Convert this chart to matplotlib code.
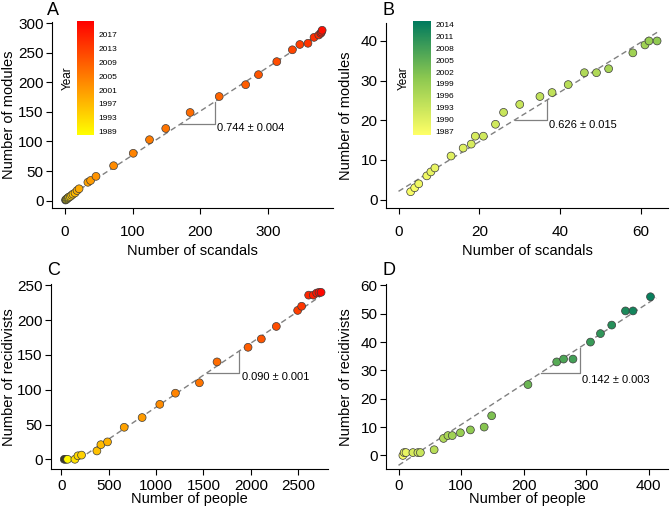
import matplotlib
matplotlib.use("Agg")
import matplotlib.pyplot as plt
from matplotlib.colors import LinearSegmentedColormap, Normalize
from matplotlib.cm import ScalarMappable

plt.rcParams['font.family'] = ['Liberation Sans', 'DejaVu Sans']

# panel A: scandals vs modules (orange scale)
a_x = [1, 2, 3, 4, 5, 6, 8, 10, 12, 15, 18, 21, 34, 38, 46, 72, 101, 125, 149, 185,
       228, 267, 286, 313, 336, 347, 359, 368, 375, 378, 379, 380]
a_y = [1, 2, 3, 4, 5, 6, 7, 9, 11, 13, 17, 20, 31, 34, 41, 59, 80, 103, 122, 149,
       176, 196, 213, 235, 255, 264, 266, 276, 280, 283, 285, 288]
a_year = [1987, 1989, 1990, 1991, 1992, 1993, 1994, 1995, 1996, 1997, 1998, 1999, 2000, 2001,
          2002, 2003, 2004, 2005, 2006, 2007, 2008, 2009, 2010, 2011, 2012, 2013, 2014, 2015,
          2016, 2017, 2018, 2019]

# panel B: scandals vs modules (green scale)
b_x = [3, 4, 5, 7, 8, 9, 13, 16, 18, 19, 21, 24, 26, 30, 35, 38, 42, 46, 49, 52, 58, 61, 62, 64]
b_y = [2, 3, 4, 6, 7, 8, 11, 13, 14, 16, 16, 19, 22, 24, 26, 27, 29, 32, 32, 33, 37, 39, 40, 40]
b_year = [1987, 1987, 1988, 1988, 1989, 1989, 1990, 1990, 1991, 1991, 1992, 1992, 1993, 1993,
          1994, 1994, 1995, 1996, 1996, 1997, 1998, 1998, 1999, 2000]

# panel C: people vs recidivists (orange scale)
c_x = [32, 49, 67, 144, 176, 214, 376, 418, 488, 664, 853, 1039, 1204, 1457, 1643, 1970,
       2110, 2268, 2493, 2535, 2609, 2658, 2693, 2718, 2740]
c_y = [0, 0, 0, 0, 5, 6, 12, 21, 25, 46, 60, 79, 95, 110, 140, 161, 173, 191, 214, 220,
       236, 236, 239, 240, 240]
c_year = [1987, 1987, 1989, 1992, 1993, 1994, 1996, 1997, 1998, 2000, 2001, 2003, 2004, 2006,
          2007, 2009, 2010, 2011, 2013, 2014, 2016, 2017, 2018, 2019, 2020]

# panel D: people vs recidivists (green scale)
d_x = [7, 9, 12, 23, 31, 35, 57, 72, 79, 86, 99, 115, 137, 149, 207, 253, 264, 279, 307,
       323, 341, 363, 375, 403]
d_y = [0, 1, 1, 1, 1, 1, 2, 6, 7, 7, 8, 9, 10, 14, 25, 33, 34, 34, 40, 43, 46, 51, 51, 56]
d_year = [1987, 1988, 1989, 1991, 1992, 1993, 1995, 1996, 1997, 1998, 1999, 2000, 2001, 2002,
          2004, 2006, 2007, 2008, 2009, 2010, 2011, 2012, 2013, 2014]

# fitted lines: slope, intercept, x start, x end
fits = {
    'A': (0.744, 2.5, 0, 384),
    'B': (0.626, 2.1, 0, 64),
    'C': (0.092, -17, 190, 2760),
    'D': (0.1435, -3.5, 0, 412),
}
slope_labels = {'A': '0.744 ± 0.004', 'B': '0.626 ± 0.015',
                'C': '0.090 ± 0.001', 'D': '0.142 ± 0.003'}
# slope triangle: x0, x1, text x, text y
triangles = {
    'A': (170, 221, 225, 123),
    'B': (28.8, 36.8, 37.3, 18.7),
    'C': (1534, 1878, 1903, 119),
    'D': (227.7, 289.6, 293, 26.7),
}

orange = LinearSegmentedColormap.from_list('orange', ['#FFFF00', '#FF8000', '#FF0000'])
orange.set_under('#3a3a20')
green = LinearSegmentedColormap.from_list('green', ['#FFFF66', '#8CC850', '#007A5E'])
orange_norm = Normalize(1988, 2021)
green_norm = Normalize(1986, 2015)

fig = plt.figure(figsize=(6.7, 5.13), dpi=100)

W, H = 670.0, 513.0
def px_axes(left, top, right, bottom):
    return fig.add_axes([left / W, 1 - bottom / H, (right - left) / W, (bottom - top) / H])

panels = [
    ('A', px_axes(52, 22, 333, 208), a_x, a_y, a_year, orange, orange_norm,
     (-19, 396), (-12.5, 302), [0, 100, 200, 300], range(0, 301, 50),
     'Number of scandals', 'Number of modules', (-0.232, -0.153), (47, 2), 8),
    ('B', px_axes(386, 22.7, 668, 208), b_x, b_y, b_year, green, green_norm,
     (-3.1, 66.7), (-2.1, 44.6), [0, 20, 40, 60], range(0, 41, 10),
     'Number of scandals', 'Number of modules', (-0.232, -0.142), (382, 2), 8),
    ('C', px_axes(51, 284, 328, 469.3), c_x, c_y, c_year, orange, orange_norm,
     (-108, 2813), (-14.4, 252), range(0, 2501, 500), range(0, 251, 50),
     'Number of people', 'Number of recidivists', (-0.160, -0.152), (47, 262), 3),
    ('D', px_axes(386, 284, 668, 469.3), d_x, d_y, d_year, green, green_norm,
     (-20, 431), (-4.9, 60.5), range(0, 401, 100), range(0, 61, 10),
     'Number of people', 'Number of recidivists', (-0.160, -0.142), (382, 262), 3),
]

for key, ax, xs, ys, yrs, cmap, norm, xl, yl, xt, yt, xlab, ylab, lab_pos, letter_pos, xpad in panels:
    slope, icpt, x_start, x_end = fits[key]
    ax.plot([x_start, x_end], [slope * x_start + icpt, slope * x_end + icpt],
            color='#808080', lw=1, dashes=(4, 2.5), zorder=1)
    x0, x1, tx, ty = triangles[key]
    y0 = slope * x0 + icpt
    y1 = slope * x1 + icpt
    ax.plot([x0, x1, x1], [y0, y0, y1], color='#808080', lw=0.9, zorder=1)
    ax.text(tx, ty, slope_labels[key], fontsize=8, va='center', ha='left')

    ax.scatter(xs, ys, c=yrs, cmap=cmap, norm=norm, s=32,
               edgecolors='#3c3c3c', linewidths=0.5, zorder=3)

    ax.set_xlim(*xl)
    ax.set_ylim(*yl)
    ax.set_xticks(list(xt))
    ax.set_yticks(list(yt))
    for side in ('top', 'right'):
        ax.spines[side].set_visible(False)
    ax.tick_params(labelsize=11, length=4, width=0.8)
    ax.tick_params(axis='y', pad=2)
    ax.tick_params(axis='x', pad=xpad)
    ax.set_xlabel(xlab, fontsize=10.5, va='center')
    ax.set_ylabel(ylab, fontsize=10.5, va='center')
    ax.xaxis.set_label_coords(0.5, lab_pos[0])
    ax.yaxis.set_label_coords(lab_pos[1], 0.5)
    fig.text(letter_pos[0] / W, 1 - letter_pos[1] / H, key, fontsize=13,
             ha='left', va='top')

# colour bars
cax_a = px_axes(77, 21, 94, 135)
cb_a = fig.colorbar(ScalarMappable(norm=orange_norm, cmap=orange), cax=cax_a,
                    ticks=[1989, 1993, 1997, 2001, 2005, 2009, 2013, 2017])
cax_b = px_axes(413, 21, 431, 135)
cb_b = fig.colorbar(ScalarMappable(norm=green_norm, cmap=green), cax=cax_b,
                    ticks=[1987, 1990, 1993, 1996, 1999, 2002, 2005, 2008, 2011, 2014])
for cb in (cb_a, cb_b):
    cb.outline.set_visible(False)
    cb.ax.tick_params(length=0, labelsize=6, pad=3)
    cb.ax.yaxis.set_label_position('left')
    cb.ax.set_ylabel('Year', fontsize=8.5, labelpad=2)

fig.savefig('out.png', dpi=100)
